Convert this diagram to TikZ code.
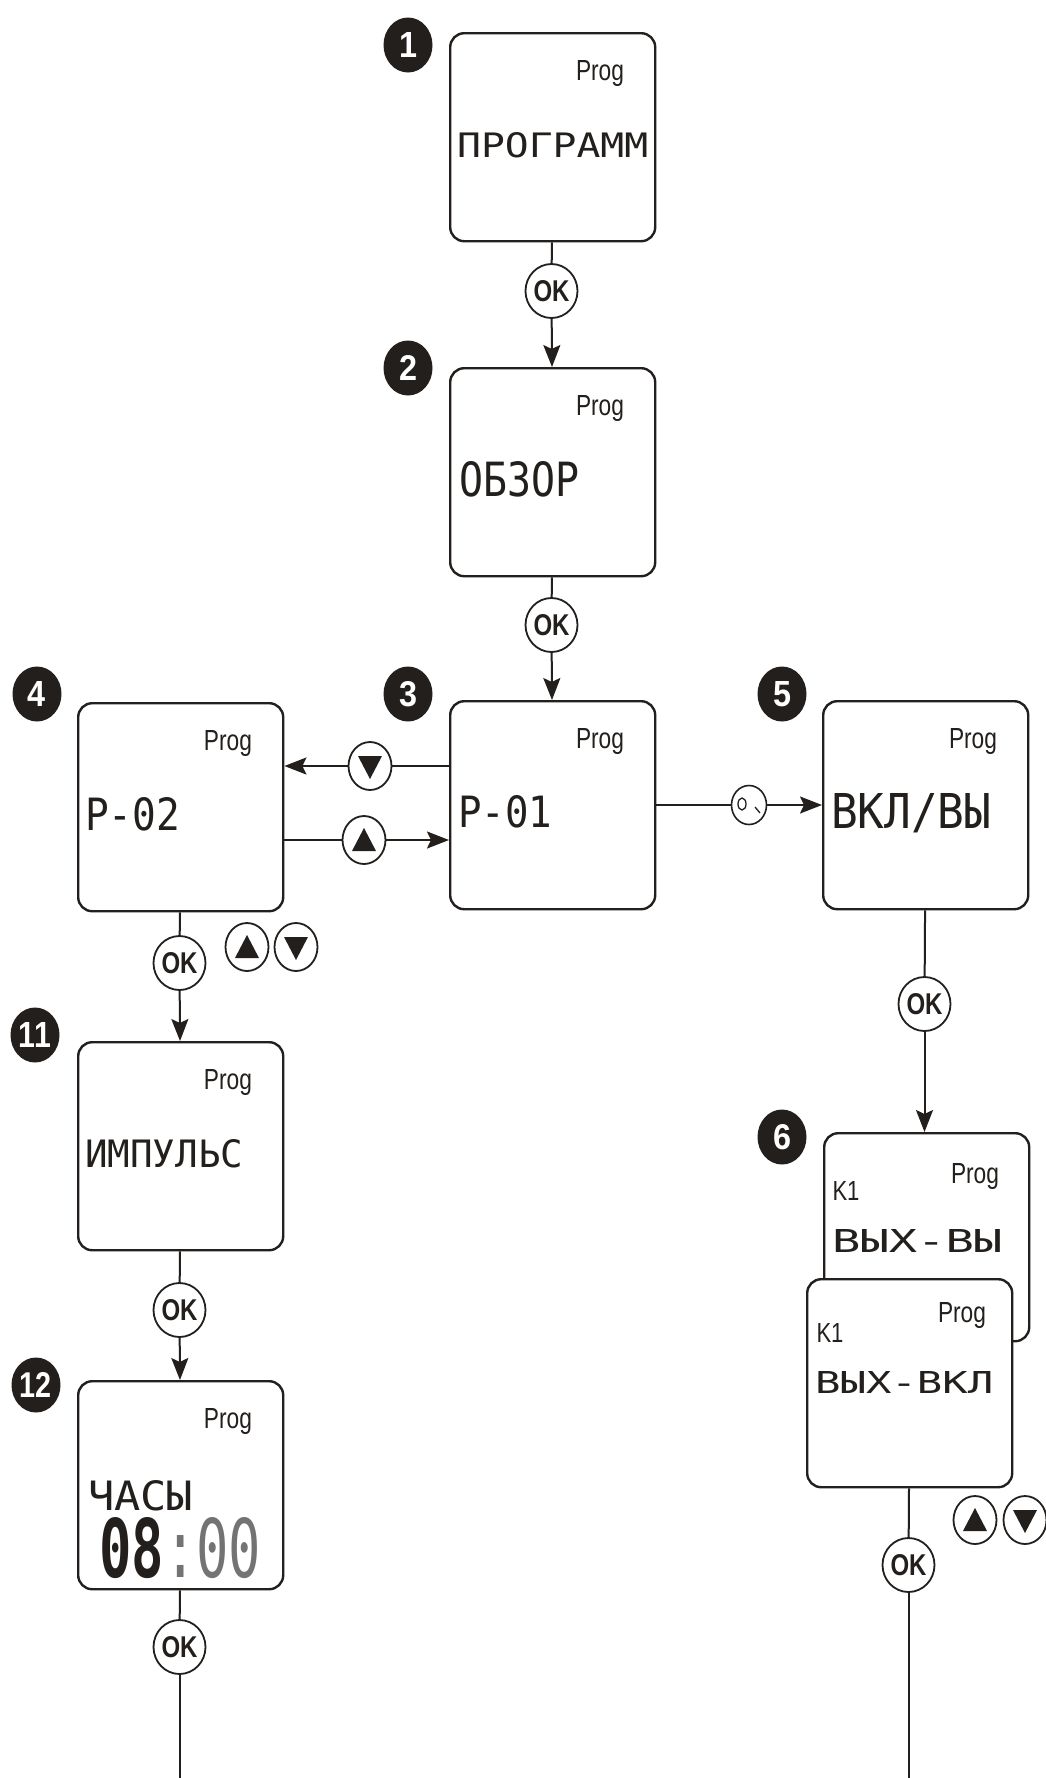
\documentclass[tikz,border=0pt]{standalone}
\usepackage{fontspec}
\setmainfont{Liberation Sans}
\newfontfamily\lcdfont{DejaVu Sans Mono}
\usepackage{graphicx}
\usetikzlibrary{arrows.meta,shapes.geometric,calc}
\definecolor{ink}{RGB}{35,31,28}
\definecolor{lcdgray}{RGB}{115,115,115}
\newcommand\lcdtext[3]{\resizebox{#1pt}{#2pt}{\lcdfont #3}}
\newcommand\progtxt{\resizebox{48pt}{20pt}{Prog}}
\newcommand\kone{\resizebox{27pt}{19pt}{K1}}
\newcommand\okt{\resizebox{36pt}{21pt}{\bfseries OK}}
\newcommand\bnum[2]{\resizebox{#1pt}{25pt}{\bfseries #2}}
\newcommand\downtri[1]{\fill[ink] ($(#1)+(-12,-10)$) -- ($(#1)+(12,-10)$) -- ($(#1)+(0,13)$) -- cycle;}
\newcommand\uptri[1]{\fill[ink] ($(#1)+(-12,11)$) -- ($(#1)+(12,11)$) -- ($(#1)+(0,-12)$) -- cycle;}
\begin{document}
\begin{tikzpicture}[x=1pt,y=-1pt,
  screen/.style={draw=ink, line width=2.4pt, rounded corners=14pt, minimum width=205pt, minimum height=208pt, anchor=north west, inner sep=0pt, fill=white},
  badge/.style={ellipse, fill=ink, minimum width=49pt, minimum height=55pt, inner sep=0pt, text=white},
  okbtn/.style={ellipse, draw=ink, line width=1.8pt, fill=white, minimum width=52pt, minimum height=54pt, inner sep=0pt, text=ink},
  arrbtn/.style={ellipse, draw=ink, line width=1.8pt, fill=white, minimum width=43pt, minimum height=48pt, inner sep=0pt},
  swbtn/.style={ellipse, draw=ink, line width=1.6pt, fill=white, minimum width=35pt, minimum height=39pt, inner sep=0pt},
  link/.style={draw=ink, line width=2pt},
  arr/.style={link, -{Stealth[length=22pt,width=17pt,inset=4pt]}},
  lbl/.style={anchor=base, inner sep=0pt, text=ink},
  txt/.style={anchor=base west, inner sep=0pt, text=ink}]
\useasboundingbox (0,0) rectangle (1046,1778);
\fill[white] (0,0) rectangle (1046,1778);

% screens
\node[screen] (b1) at (449,32) {};
\node[screen] (b2) at (449,367) {};
\node[screen] (b3) at (449,700) {};
\node[screen] (b4) at (77,702) {};
\node[screen] (b5) at (822,700) {};
\node[screen] (b11) at (77,1041) {};
\node[screen] (b12) at (77,1380) {};
\node[screen] (b6a) at (823,1132) {};
\node[screen] (b6b) at (806,1278) {};

% Prog labels
\foreach \b in {b1,b2,b3,b4,b5,b11,b12}{
  \node[lbl] (p\b) at ($(\b.north west)+(151,48)$) {\progtxt};
}
\node[lbl] (pb6a) at ($(b6a.north west)+(152,51)$) {\progtxt};
\node[lbl] (pb6b) at ($(b6b.north west)+(156,44)$) {\progtxt};
\node[lbl] (k6a) at ($(b6a.north west)+(23,68)$) {\kone};
\node[lbl] (k6b) at ($(b6b.north west)+(24,64)$) {\kone};

% display texts
\node[txt] (t1) at ($(b1.north west)+(8,125)$) {\lcdtext{191}{25}{ПРОГРАММ}};
\node[txt] (t2) at ($(b2.north west)+(10,129)$) {\lcdtext{120}{35}{ОБЗОР}};
\node[txt] (t3) at ($(b3.north west)+(9,127)$) {\lcdtext{94}{32}{P-01}};
\node[txt] (t4) at ($(b4.north west)+(8,128)$) {\lcdtext{95}{33}{P-02}};
\node[txt] (t5) at ($(b5.north west)+(9,128)$) {\lcdtext{160}{35}{ВКЛ/ВЫ}};
\node[txt] (t11) at ($(b11.north west)+(8,126)$) {\lcdtext{158}{28}{ИМПУЛЬС}};
\node[txt] (t12a) at ($(b12.north west)+(11,130)$) {\lcdtext{105}{30}{ЧАСЫ}};
\node[txt] (t12b) at ($(b12.north west)+(22,197)$) {\lcdtext{162}{60}{{\bfseries 08}\textcolor{lcdgray}{:00}}};
\node[txt] (t6a) at ($(b6a.north west)+(9,120)$) {\lcdtext{170}{23}{ВЫХ-ВЫ}};
\node[txt] (t6b) at ($(b6b.north west)+(9,115)$) {\lcdtext{178}{22}{ВЫХ-ВКЛ}};

% badges
\node[badge] (n1) at (408,45) {\bnum{18}{1}};
\node[badge] (n2) at (408,368) {\bnum{18}{2}};
\node[badge] (n3) at (408,694) {\bnum{18}{3}};
\node[badge] (n4) at (37,694) {\bnum{18}{4}};
\node[badge] (n5) at (782,694) {\bnum{18}{5}};
\node[badge] (n6) at (782,1137) {\bnum{18}{6}};
\node[badge] (n11) at (35,1035) {\bnum{32}{11}};
\node[badge] (n12) at (36,1385) {\bnum{32}{12}};

% OK buttons
\node[okbtn] (ok1) at (551.5,291) {\okt};
\node[okbtn] (ok2) at (551.5,625) {\okt};
\node[okbtn] (ok4) at (179.5,963) {\okt};
\node[okbtn] (ok11) at (179.5,1310) {\okt};
\node[okbtn] (ok12) at (179.5,1647) {\okt};
\node[okbtn] (ok5) at (924.5,1004) {\okt};
\node[okbtn] (ok6) at (908.5,1565) {\okt};
\coordinate (end12) at (179.5,1778);
\coordinate (end6) at (908.5,1778);

% arrow buttons
\node[arrbtn] (d3) at (370,766) {};
\node[arrbtn] (u3) at (364,840) {};
\node[arrbtn] (ua) at (247,947) {};
\node[arrbtn] (da) at (296,947) {};
\node[arrbtn] (ub) at (975,1520) {};
\node[arrbtn] (db) at (1025,1520) {};
\downtri{d3} \uptri{u3} \uptri{ua} \downtri{da} \uptri{ub} \downtri{db}

% switch button
\node[swbtn] (sw) at (749,805) {};
\draw[ink, line width=1.3pt] ($(sw)+(-7,-1)$) ellipse (4 and 6);
\draw[ink, line width=1.3pt] ($(sw)+(6,2)$) -- ($(sw)+(11,8)$);

% connectors
\draw[link] (b1) -- (ok1);
\draw[arr] (ok1) -- (b2);
\draw[link] (b2) -- (ok2);
\draw[arr] (ok2) -- (b3);
\draw[link] (b3.west |- d3) -- (d3);
\draw[arr] (d3) -- (b4.east |- d3);
\draw[link] (b4.east |- u3) -- (u3);
\draw[arr] (u3) -- (b3.west |- u3);
\draw[link] (b3.east |- sw) -- (sw);
\draw[arr] (sw) -- (b5.west |- sw);
\draw[link] (b5) -- (ok5);
\draw[arr] (ok5) -- (ok5 |- b6a.north);
\draw[link] (b6b) -- (ok6);
\draw[link] (ok6) -- (end6);
\draw[link] (b4) -- (ok4);
\draw[arr] (ok4) -- (b11);
\draw[link] (b11) -- (ok11);
\draw[arr] (ok11) -- (b12);
\draw[link] (b12) -- (ok12);
\draw[link] (ok12) -- (end12);
\end{tikzpicture}
\end{document}
